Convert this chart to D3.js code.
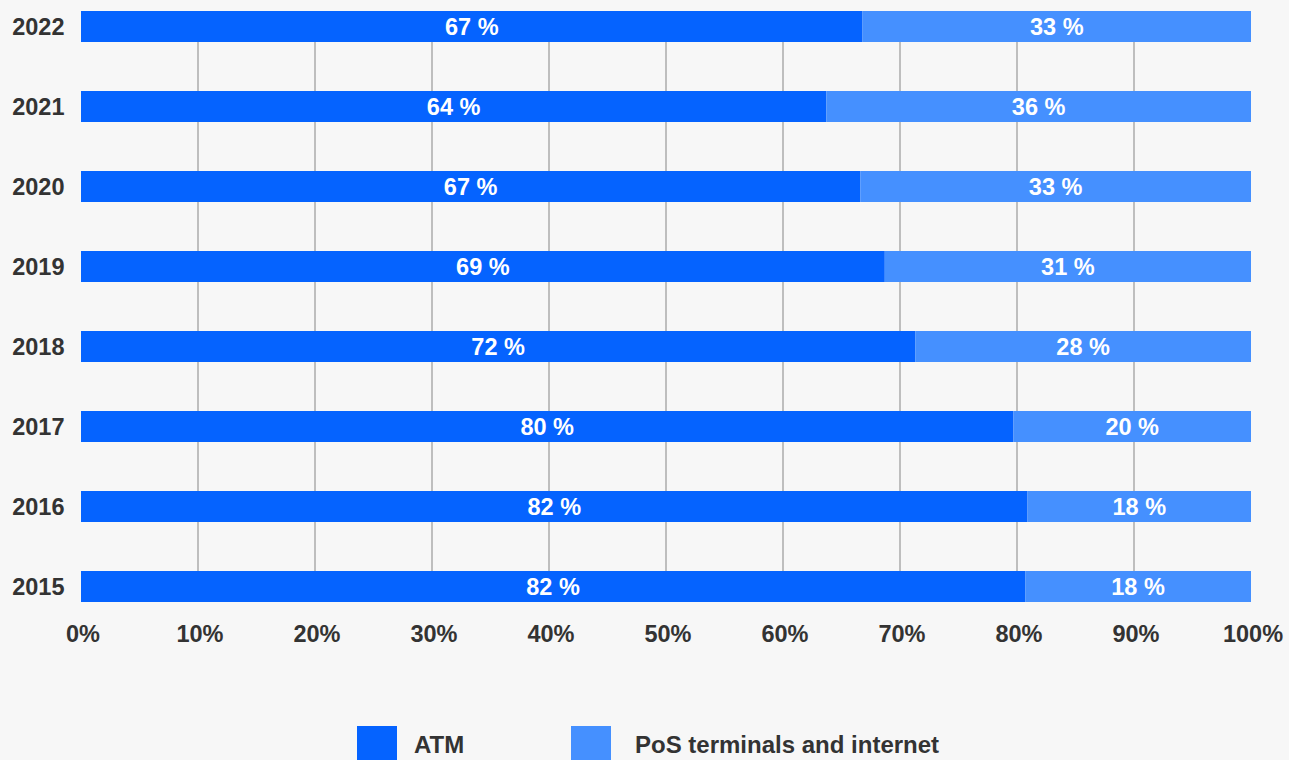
<!DOCTYPE html>
<html>
<head>
<meta charset="utf-8">
<script src="https://cdn.jsdelivr.net/npm/d3@7/dist/d3.min.js"></script>
<style>
  html, body { margin: 0; padding: 0; background: #f7f7f7; }
  svg { display: block; }
  text { font-family: "Liberation Sans", Arial, Helvetica, sans-serif; font-weight: bold; }
</style>
</head>
<body>
<svg id="chart" width="1289" height="760"></svg>
<script>
// ---- data ----
const years = ["2022", "2021", "2020", "2019", "2018", "2017", "2016", "2015"];
const atmShare = [66.8, 63.7, 66.6, 68.7, 71.3, 79.7, 80.9, 80.7];
const atmLabels = ["67 %", "64 %", "67 %", "69 %", "72 %", "80 %", "82 %", "82 %"];
const posLabels = ["33 %", "36 %", "33 %", "31 %", "28 %", "20 %", "18 %", "18 %"];
const xTicks = [0, 10, 20, 30, 40, 50, 60, 70, 80, 90, 100];
const gridTicks = [10, 20, 30, 40, 50, 60, 70, 80, 90];
const seriesNames = ["ATM", "PoS terminals and internet"];
const seriesColors = ["#0563ff", "#4590ff"];

// ---- layout ----
const svg = d3.select("#chart");
const x = d3.scaleLinear().domain([0, 100]).range([81, 1251]);
const y = d3.scaleBand().domain(years).range([11, 602]).paddingInner(49 / 80).paddingOuter(0);

const rows = years.map((yr, i) => ({
  year: yr,
  atm: atmShare[i],
  atmLabel: atmLabels[i],
  posLabel: posLabels[i]
}));

// grid lines
svg.append("g")
  .selectAll("line")
  .data(gridTicks)
  .join("line")
  .attr("x1", d => x(d)).attr("x2", d => x(d))
  .attr("y1", y.range()[0]).attr("y2", y.range()[1])
  .attr("stroke", "#ababab")
  .attr("stroke-width", 1.5);

// bars
const g = svg.append("g");
g.selectAll("rect.atm")
  .data(rows).join("rect")
  .attr("class", "atm")
  .attr("x", x(0))
  .attr("y", d => y(d.year))
  .attr("width", d => x(d.atm) - x(0))
  .attr("height", y.bandwidth())
  .attr("fill", seriesColors[0]);

g.selectAll("rect.pos")
  .data(rows).join("rect")
  .attr("class", "pos")
  .attr("x", d => x(d.atm))
  .attr("y", d => y(d.year))
  .attr("width", d => x(100) - x(d.atm))
  .attr("height", y.bandwidth())
  .attr("fill", seriesColors[1]);

// bar labels
g.selectAll("text.atmL")
  .data(rows).join("text")
  .attr("class", "atmL")
  .attr("x", d => (x(0) + x(d.atm)) / 2)
  .attr("y", d => y(d.year) + y.bandwidth() / 2)
  .attr("dy", "0.36em")
  .attr("text-anchor", "middle")
  .attr("fill", "#ffffff")
  .style("font-size", "23.5px")
  .text(d => d.atmLabel);

g.selectAll("text.posL")
  .data(rows).join("text")
  .attr("class", "posL")
  .attr("x", d => (x(d.atm) + x(100)) / 2)
  .attr("y", d => y(d.year) + y.bandwidth() / 2)
  .attr("dy", "0.36em")
  .attr("text-anchor", "middle")
  .attr("fill", "#ffffff")
  .style("font-size", "23.5px")
  .text(d => d.posLabel);

// y axis labels
svg.append("g")
  .selectAll("text")
  .data(years).join("text")
  .attr("x", 64.5)
  .attr("y", d => y(d) + y.bandwidth() / 2)
  .attr("dy", "0.36em")
  .attr("text-anchor", "end")
  .attr("fill", "#333333")
  .style("font-size", "23.5px")
  .text(d => d);

// x axis labels
const xAxis = d3.axisBottom(x).tickValues(xTicks).tickFormat(d => d + "%").tickSize(0).tickPadding(0);
const xg = svg.append("g").attr("transform", "translate(1.5,0)").call(xAxis);
xg.select(".domain").remove();
xg.selectAll("text")
  .attr("y", 642)
  .attr("dy", null)
  .attr("fill", "#333333")
  .style("font-size", "23.5px")
  .style("font-family", "'Liberation Sans', Arial, Helvetica, sans-serif")
  .style("font-weight", "bold");

// legend
const legendX = [357, 571];
const legendTextX = [414, 635];
const leg = svg.append("g");
seriesNames.forEach((name, i) => {
  leg.append("rect")
    .attr("x", legendX[i]).attr("y", 726)
    .attr("width", 40).attr("height", 40)
    .attr("fill", seriesColors[i]);
  leg.append("text")
    .attr("x", legendTextX[i]).attr("y", 752.5)
    .attr("fill", "#333333")
    .style("font-size", "24px")
    .text(name);
});
</script>
</body>
</html>
